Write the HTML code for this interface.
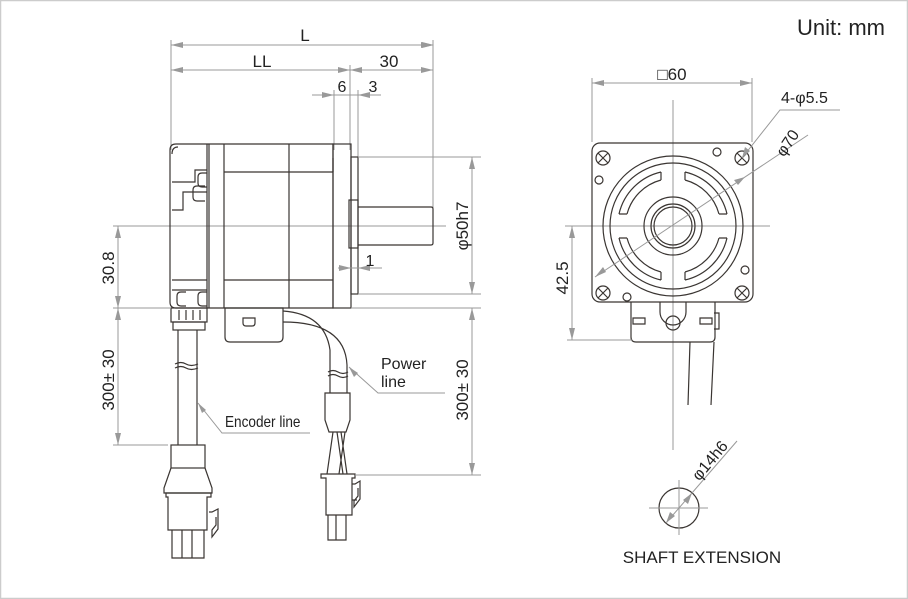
<!DOCTYPE html>
<html><head><meta charset="utf-8"><style>
html,body{margin:0;padding:0;background:#fff}
svg{display:block}
text{font-family:"Liberation Sans",sans-serif;fill:#222}
.d{stroke:#999;stroke-width:1;fill:none}
.m{stroke:#3a3532;stroke-width:1.2;fill:none}
.a{fill:#999;stroke:none}
</style></head><body>
<svg width="908" height="599" viewBox="0 0 908 599">
<defs>
<marker id="ar" markerWidth="12" markerHeight="6" refX="11" refY="3" orient="auto" markerUnits="userSpaceOnUse"><path d="M0,0 L12,3 L0,6z" fill="#999"/></marker>
</defs>
<rect x="0.5" y="0.5" width="907" height="598" fill="#fff" stroke="#ccc" stroke-width="1.5"/>
<text x="885" y="35" font-size="22" text-anchor="end">Unit: mm</text>

<!-- top dims -->
<line class="d" x1="171" y1="40" x2="171" y2="150"/>
<line class="d" x1="433" y1="40" x2="433" y2="232"/>
<line class="d" x1="350" y1="65" x2="350" y2="150"/>
<line class="d" x1="334" y1="90" x2="334" y2="150"/>
<line class="d" x1="358" y1="90" x2="358" y2="275"/>
<line class="d" x1="171" y1="45" x2="433" y2="45" marker-start="url(#ar)" marker-end="url(#ar)" style="marker-start:none"/>
<path class="a" d="M171,45 l12,-3 v6z M433,45 l-12,-3 v6z"/>
<line class="d" x1="171" y1="70" x2="350" y2="70"/><line class="d" x1="350" y1="70" x2="433" y2="70"/>
<path class="a" d="M171,70 l12,-3 v6z M350,70 l-12,-3 v6z M350,70 l12,-3 v6z M433,70 l-12,-3 v6z"/>
<line class="d" x1="312" y1="95" x2="381" y2="95"/>
<path class="a" d="M334,95 l-12,-3 v6z M358,95 l12,-3 v6z"/>
<text x="305" y="41" font-size="17" text-anchor="middle">L</text>
<text x="262" y="67" font-size="17" text-anchor="middle">LL</text>
<text x="389" y="67" font-size="17" text-anchor="middle">30</text>
<text x="342" y="92" font-size="16" text-anchor="middle">6</text>
<text x="373" y="92" font-size="16" text-anchor="middle">3</text>

<!-- centerline -->
<line class="d" x1="113" y1="226" x2="446" y2="226"/>

<!-- motor body -->
<path class="m" d="M176,144 H333 V308 H176 Q170,308 170,302 V150 Q170,144 176,144z"/>
<line class="m" x1="207" y1="144" x2="207" y2="308"/>
<line class="m" x1="209" y1="144" x2="209" y2="308"/>
<line class="m" x1="224" y1="144" x2="224" y2="308"/>
<line class="m" x1="289" y1="144" x2="289" y2="308"/>
<line class="m" x1="224" y1="172" x2="333" y2="172"/>
<line class="m" x1="224" y1="280" x2="333" y2="280"/>
<path class="m" d="M172,182 H195 V170 H207 M172,210 H183 V192 H207 M172,280 H207 M172,290 H207"/>
<path class="m" d="M172,154 Q172,147 178,147"/>
<rect class="m" x="333" y="144" width="18" height="164"/>
<line class="m" x1="333" y1="158" x2="333" y2="172"/>
<rect class="m" x="351" y="157" width="7" height="137"/>
<rect class="m" x="349" y="200" width="9" height="48"/>
<path class="m" d="M358,207 H431 Q433,207 433,209 V243 Q433,245 431,245 H358"/>
<!-- screws -->
<path class="m" d="M207,173 h-5 q-4,0 -4,4 v6 q0,4 4,4 h5 M205,186 h-8 q-4,0 -4,4 v7 q0,4 4,4 h8 M207,292 h-5 q-4,0 -4,4 v6 q0,4 4,4 h5 M186,292 h-5 q-4,0 -4,4 v6 q0,4 4,4 h5"/>
<!-- gland -->
<rect class="m" x="171" y="308" width="36" height="14"/>
<rect class="m" x="173" y="322" width="32" height="8"/>
<line class="m" x1="179" y1="310" x2="179" y2="320"/><line class="m" x1="186" y1="310" x2="186" y2="320"/><line class="m" x1="193" y1="310" x2="193" y2="320"/><line class="m" x1="200" y1="310" x2="200" y2="320"/>
<!-- encoder box -->
<path class="m" d="M225,308 H283 V337 Q283,342 278,342 H230 Q225,342 225,337z"/>
<path class="m" d="M243,318 h12 v5 q0,3 -3,3 h-6 q-3,0 -3,-3z"/>
<!-- power cable -->
<path class="m" d="M283,311 Q325,314 330,350 V393 M283,322 Q345,322 347,365 V393"/>
<path class="m" d="M328,372 q5,-3 10,0 t10,0 M328,376 q5,-3 10,0 t10,0"/>
<path class="m" d="M325,393 H350 V420 L346,432 H329 L325,420z"/>
<path class="m" d="M333,432 L327,474 M337,432 L343,474 M341,432 L347,474 M345,432 L339,474"/>
<path class="m" d="M321,474 H355 V478 H352 V515 H326 V478 H321z"/>
<path class="m" d="M328,515 V540 H336 V515 M336,540 H346 V515"/>
<path class="m" d="M352,484 h3 l5,-3 v18 l-6,8 v-6 l4,-5 v-8 M352,500 h5"/>
<!-- encoder cable -->
<path class="m" d="M178,330 V445 M197,330 V445"/>
<path class="m" d="M175,364 q6,-3 11,0 t12,0 M175,368 q6,-3 11,0 t12,0"/>
<rect class="m" x="171" y="445" width="34" height="23"/>
<path class="m" d="M171,468 L164,488 V493 H212 V488 L205,468"/>
<path class="m" d="M166,493 H211 V497 H207 V530 H168 V497 H166z"/>
<path class="m" d="M172,530 V558 H182 V530 M182,558 H192 V530 M192,558 H204 V530"/>
<path class="m" d="M209,512 h3 l6,-3 v20 l-6,8 v-7 l4,-5 v-8"/>

<!-- left dims -->
<line class="d" x1="113" y1="308" x2="171" y2="308"/>
<line class="d" x1="113" y1="445" x2="168" y2="445"/>
<line class="d" x1="118" y1="226" x2="118" y2="445"/>
<path class="a" d="M118,226 l-3,12 h6z M118,308 l-3,-12 h6z M118,308 l-3,12 h6z M118,445 l-3,-12 h6z"/>
<text transform="translate(114,268) rotate(-90)" font-size="17" text-anchor="middle">30.8</text>
<text transform="translate(114,380) rotate(-90)" font-size="17" text-anchor="middle">300± 30</text>
<!-- right dims -->
<line class="d" x1="358" y1="157" x2="481" y2="157"/>
<line class="d" x1="358" y1="294" x2="481" y2="294"/>
<line class="d" x1="351" y1="308" x2="481" y2="308"/>
<line class="d" x1="355" y1="475" x2="481" y2="475"/>
<line class="d" x1="472" y1="157" x2="472" y2="294"/>
<line class="d" x1="472" y1="308" x2="472" y2="475"/>
<path class="a" d="M472,157 l-3,12 h6z M472,294 l-3,-12 h6z M472,308 l-3,12 h6z M472,475 l-3,-12 h6z"/>
<text transform="translate(468,226) rotate(-90)" font-size="17" text-anchor="middle">φ50h7</text>
<text transform="translate(468,390) rotate(-90)" font-size="17" text-anchor="middle">300± 30</text>
<line class="d" x1="338" y1="268" x2="382" y2="268"/>
<path class="a" d="M351,268 l-12,-3 v6z M358,268 l12,-3 v6z"/>
<text x="370" y="266" font-size="16" text-anchor="middle">1</text>
<!-- labels -->
<path class="d" d="M349,367 L378,393 H445"/><path class="a" d="M349,367 l5,10 l4,-4z"/>
<text x="381" y="369" font-size="16">Power</text><text x="381" y="387" font-size="16">line</text>
<path class="d" d="M198,403 L222,433 H310"/><path class="a" d="M198,403 l4,10 l4,-3z"/>
<text x="225" y="427" font-size="16" transform="translate(225,0) scale(0.85,1) translate(-225,0)">Encoder line</text>

<!-- front view -->
<line class="d" x1="592" y1="78" x2="592" y2="142"/>
<line class="d" x1="752" y1="78" x2="752" y2="142"/>
<line class="d" x1="592" y1="83" x2="752" y2="83"/>
<path class="a" d="M592,83 l12,-3 v6z M752,83 l-12,-3 v6z"/>
<text x="672" y="80" font-size="17" text-anchor="middle">□60</text>
<line class="d" x1="673" y1="100" x2="673" y2="450"/>
<line class="d" x1="565" y1="226" x2="770" y2="226"/>
<rect class="m" x="592" y="143" width="161" height="159" rx="8"/>
<circle class="m" cx="673" cy="226" r="70"/>
<circle class="m" cx="673" cy="226" r="63"/>
<g class="m">
<path d="M619,214 A56,56 0 0 1 661,172 M627,214 A48,48 0 0 1 661,180 M619,214 h8 M661,172 v8"/>
<path d="M727,214 A56,56 0 0 0 685,172 M719,214 A48,48 0 0 0 685,180 M727,214 h-8 M685,172 v8"/>
<path d="M619,238 A56,56 0 0 0 661,280 M627,238 A48,48 0 0 0 661,272 M619,238 h8 M661,280 v-8"/>
<path d="M727,238 A56,56 0 0 1 685,280 M719,238 A48,48 0 0 1 685,272 M727,238 h-8 M685,280 v-8"/>
</g>
<circle class="m" cx="673" cy="226" r="29"/>
<circle class="m" cx="673" cy="226" r="22"/>
<circle class="m" cx="673" cy="226" r="19"/>
<g class="m">
<circle cx="603" cy="158" r="7"/><circle cx="742" cy="158" r="7"/><circle cx="603" cy="293" r="7"/><circle cx="742" cy="293" r="7"/>
<path d="M598,153 l10,10 M608,153 l-10,10 M737,153 l10,10 M747,153 l-10,10 M598,288 l10,10 M608,288 l-10,10 M737,288 l10,10 M747,288 l-10,10"/>
<circle cx="717" cy="152" r="4"/><circle cx="599" cy="180" r="4"/><circle cx="745" cy="270" r="4"/><circle cx="627" cy="297" r="4"/>
</g>
<path class="m" d="M631,302 V337 Q631,342 636,342 H710 Q715,342 715,337 V302"/>
<path class="m" d="M660,302 V312 A13,13 0 0 0 686,312 V302"/>
<circle class="m" cx="673" cy="323" r="7"/>
<path class="m" d="M633,318 h12 v6 h-12z M700,318 h12 v6 h-12z M714,313 h5 v16 h-5"/>
<path class="m" d="M690,342 L688,405 M714,342 L711,405"/>
<line class="d" x1="595" y1="277" x2="808" y2="135"/>
<path class="a" d="M595,277 l8,-10 l3,5z M745,177 l-11,3 l4,5z"/>
<text transform="translate(792,146) rotate(-56)" font-size="16" text-anchor="middle">φ70</text>
<path class="d" d="M742,158 L780,110 H840"/><path class="a" d="M742,158 l3,-11 l5,4z"/>
<text x="781" y="103" font-size="16">4-φ5.5</text>
<line class="d" x1="567" y1="340" x2="632" y2="340"/>
<line class="d" x1="572" y1="226" x2="572" y2="340"/>
<path class="a" d="M572,226 l-3,12 h6z M572,340 l-3,-12 h6z"/>
<text transform="translate(568,278) rotate(-90)" font-size="17" text-anchor="middle">42.5</text>

<!-- shaft extension -->
<circle class="m" cx="679" cy="508" r="20"/>
<line class="d" x1="649" y1="508" x2="708" y2="508"/>
<line class="d" x1="679" y1="480" x2="679" y2="535"/>
<line class="d" x1="666" y1="523" x2="737" y2="441"/>
<path class="a" d="M666,523 l4,-11 l5,4z M692,493 l-4,11 l-5,-4z"/>
<text transform="translate(714,464) rotate(-50)" font-size="16" text-anchor="middle">φ14h6</text>
<text x="702" y="563" font-size="17" text-anchor="middle">SHAFT EXTENSION</text>
</svg>
</body></html>
